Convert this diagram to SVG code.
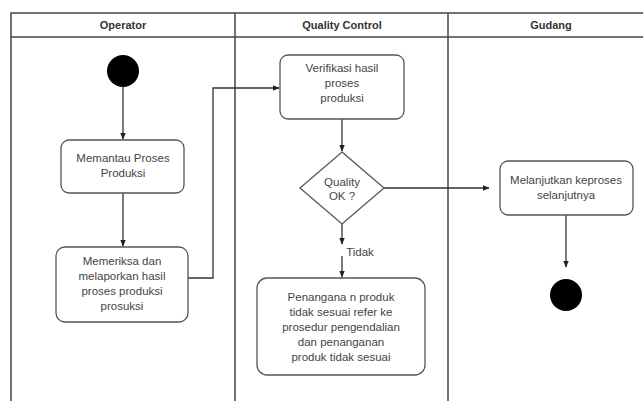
<svg xmlns="http://www.w3.org/2000/svg" width="643" height="401" viewBox="0 0 643 401">
<defs>
<marker id="arr" viewBox="0 0 10 10" refX="9" refY="5" markerWidth="7" markerHeight="7" orient="auto" markerUnits="userSpaceOnUse">
<path d="M0,1 L10,5 L0,9 z" fill="#222"/>
</marker>
</defs>
<style>
.lane{fill:none;stroke:#444;stroke-width:1.5}
.hdr{font-family:"Liberation Sans",Arial,sans-serif;font-size:11px;font-weight:bold;fill:#333;text-anchor:middle}
.box{fill:#fff;stroke:#555;stroke-width:1.3}
.t{font-family:"Liberation Sans",Arial,sans-serif;font-size:11.5px;fill:#444;text-anchor:middle}
.c{fill:none;stroke:#333;stroke-width:1.3}
.dot{fill:#000}
</style>
<rect width="643" height="401" fill="#fff"/>
<g id="pool">
<path class="lane" d="M11,401 V13 H660 M11,37 H660 M235,13 V401 M448,13 V401"/>
<text class="hdr" x="123" y="29">Operator</text>
<text class="hdr" x="342" y="29">Quality Control</text>
<text class="hdr" x="551" y="29">Gudang</text>
</g>
<g id="connectors">
<path class="c" d="M123,87 V139" marker-end="url(#arr)"/>
<path class="c" d="M123,193 V246" marker-end="url(#arr)"/>
<path class="c" d="M188,278 H213 V88 H279" marker-end="url(#arr)"/>
<path class="c" d="M342,119 V151" marker-end="url(#arr)"/>
<path class="c" d="M342,224 V244" marker-end="url(#arr)"/>
<path class="c" d="M342,256 V277" marker-end="url(#arr)"/>
<text class="t" x="360" y="256">Tidak</text>
<path class="c" d="M384,188 H489" marker-end="url(#arr)"/>
<path class="c" d="M566,215 V267" marker-end="url(#arr)"/>
</g>
<g id="start"><circle class="dot" cx="123" cy="71" r="16"/></g>
<g id="memantau">
<rect class="box" x="61" y="140" width="123" height="53" rx="8"/>
<text class="t" x="123" y="162">Memantau Proses</text>
<text class="t" x="123" y="177">Produksi</text>
</g>
<g id="memeriksa">
<rect class="box" x="56" y="247" width="132" height="75" rx="9"/>
<text class="t" x="122" y="265">Memeriksa dan</text>
<text class="t" x="122" y="280">melaporkan hasil</text>
<text class="t" x="122" y="295">proses produksi</text>
<text class="t" x="122" y="310">prosuksi</text>
</g>
<g id="verifikasi">
<rect class="box" x="280" y="55" width="124" height="64" rx="8"/>
<text class="t" x="342" y="72">Verifikasi hasil</text>
<text class="t" x="342" y="87">proses</text>
<text class="t" x="342" y="102">produksi</text>
</g>
<g id="decision">
<path class="box" d="M342,152 L384,188 L342,224 L300,188 Z"/>
<text class="t" x="342" y="186">Quality</text>
<text class="t" x="342" y="200">OK ?</text>
</g>
<g id="penanganan">
<rect class="box" x="257" y="278" width="168" height="97" rx="10"/>
<text class="t" x="341" y="301">Penangana n produk</text>
<text class="t" x="341" y="316">tidak sesuai refer ke</text>
<text class="t" x="341" y="331">prosedur pengendalian</text>
<text class="t" x="341" y="346">dan penanganan</text>
<text class="t" x="341" y="361">produk tidak sesuai</text>
</g>
<g id="melanjutkan">
<rect class="box" x="500" y="161" width="133" height="54" rx="8"/>
<text class="t" x="566" y="184">Melanjutkan keproses</text>
<text class="t" x="566" y="199">selanjutnya</text>
</g>
<g id="end"><circle class="dot" cx="566" cy="295" r="16"/></g>
</svg>
